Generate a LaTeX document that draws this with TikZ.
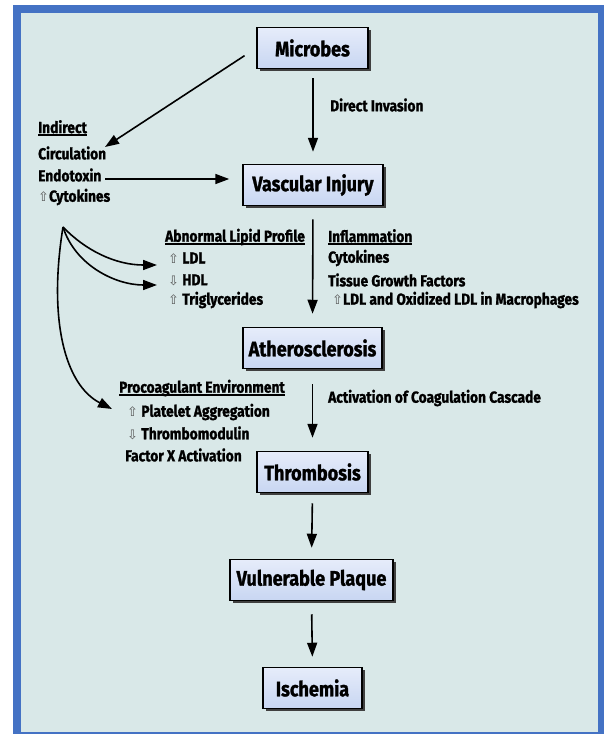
\documentclass[tikz,border=0pt]{standalone}
\usepackage{fontspec}
\setmainfont{Fira Sans}[FakeStretch=0.86, BoldFeatures={FakeBold=1.2}]
\newfontfamily\arrowfont{DejaVu Sans}
\usetikzlibrary{arrows.meta,shadows}

\newcommand{\upsym}{{\arrowfont\fontsize{13}{13}\selectfont\mdseries\color{black!65}⇧}}
\newcommand{\downsym}{{\arrowfont\fontsize{13}{13}\selectfont\mdseries\color{black!65}⇩}}
\newcommand{\heading}[1]{\setbox0\hbox{#1}\leavevmode\rlap{\raisebox{-2.8pt}{\rule{\wd0}{1.6pt}}}\box0}

\tikzset{
  stage/.style={draw=black, line width=1.5pt, top color=boxTop, bottom color=boxBottom,
    font=\fontsize{21}{24}\selectfont\bfseries, inner sep=0pt, minimum height=41pt,
    drop shadow={shadow xshift=2.5pt, shadow yshift=-2.5pt, fill=black!75, opacity=1}},
  note/.style={font=\fontsize{16}{18}\selectfont\bfseries, anchor=west, inner sep=0pt},
  flow/.style={line width=1.6pt, -{Triangle[length=14pt,width=10pt]}}
}

\begin{document}
\begin{tikzpicture}[x=1pt,y=-1pt]
\definecolor{frameBlue}{RGB}{68,114,196}
\definecolor{paneColor}{RGB}{217,232,232}
\definecolor{boxTop}{RGB}{230,236,250}
\definecolor{boxBottom}{RGB}{200,214,242}
\path[use as bounding box,fill=white] (0,0) rectangle (604,734);
\fill[frameBlue] (13,5) rectangle (604,734);
\fill[paneColor] (21,13) rectangle (598,732);

% main chain
\node[stage, minimum width=111pt] (microbes) at (312.5,48) {Microbes};
\node[stage, minimum width=140pt] (injury) at (313,185) {Vascular Injury};
\node[stage, minimum width=139pt] (athero) at (312.5,348) {Atherosclerosis};
\node[stage, minimum width=111pt] (thromb) at (312.5,472) {Thrombosis};
\node[stage, minimum width=163pt] (plaque) at (311.5,580) {Vulnerable Plaque};
\node[stage, minimum width=99pt] (ischemia) at (312.5,688) {Ischemia};

% side notes
\node[note] (indirect) at (38,128) {\heading{Indirect}};
\node[note] (circ) at (38,153) {Circulation};
\node[note] (endo) at (38,175) {Endotoxin};
\node[note] (cytoA) at (38,197) {\upsym Cytokines};

\node[note] (direct) at (330,105) {Direct Invasion};

\node[note] (lipid) at (165,237) {\heading{Abnormal Lipid Profile}};
\node[note] (ldl) at (168,258) {\upsym\ LDL};
\node[note] (hdl) at (168,280) {\downsym\ HDL};
\node[note] (trig) at (168,300) {\upsym\ Triglycerides};

\node[note] (inflam) at (328,237) {\heading{Inflammation}};
\node[note] (cytoB) at (328,258) {Cytokines};
\node[note] (growth) at (328,280) {Tissue Growth Factors};
\node[note] (oxldl) at (332,300) {\upsym LDL and Oxidized LDL in Macrophages};

\node[note] (coag) at (328,398) {Activation of Coagulation Cascade};

\node[note] (procoag) at (119,388) {\heading{Procoagulant Environment}};
\node[note] (platelet) at (127,412) {\upsym\ Platelet Aggregation};
\node[note] (modulin) at (127,433) {\downsym\ Thrombomodulin};
\node[note] (factorx) at (125,455) {Factor X Activation};

% free ends
\coordinate (indTip) at (105,147);
\coordinate (endoEnd) at (105,179);
\coordinate (fork) at (63,227);
\coordinate (ldlTip) at (157,265);
\coordinate (hdlTip) at (157,285);
\coordinate (plateTip) at (112,409);

% connectors
\draw[flow, shorten <=9pt, shorten >=12pt] (injury.north |- microbes.south) -- (injury.north);
\draw[flow, shorten <=14pt] (microbes.west) -- (indTip);
\draw[flow, shorten >=13pt] (endoEnd) -- (endoEnd -| injury.west);
\draw[flow, shorten <=13pt, shorten >=13pt] (injury.south) -- (athero.north);
\draw[flow, shorten <=15pt, shorten >=13pt] (athero.south) -- (thromb.north);
\draw[flow, shorten <=10pt, shorten >=11pt] (thromb.south) -- (plaque.north);
\draw[flow, shorten <=13pt, shorten >=10pt] (plaque.south) -- (ischemia.north);

\draw[flow] (fork) .. controls (85,250) and (115,265) .. (ldlTip);
\draw[flow] (fork) .. controls (75,265) and (115,285) .. (hdlTip);
\draw[flow] (fork) .. controls (48,320) and (65,385) .. (plateTip);
\end{tikzpicture}
\end{document}
